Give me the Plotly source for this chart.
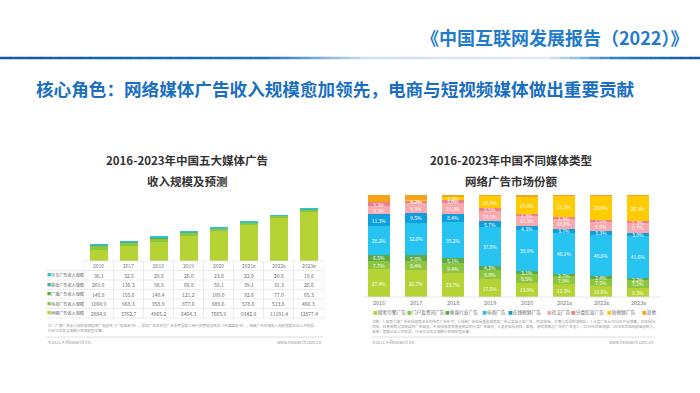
import plotly.graph_objects as go

W, H = 700, 393
FONT = "Noto Sans CJK SC"

# ---------------- data ----------------
years = ['2016', '2017', '2018', '2019', '2020', '2021e', '2022e', '2023e']

# left: 五大媒体广告收入规模（亿元）
left_names = ['杂志广告收入规模', '报纸广告收入规模', '广播广告收入规模', '电视广告收入规模', '网络广告收入规模']
magazine = [36.1, 32.5, 29.6, 26.0, 23.8, 22.0, 20.6, 19.6]
newspaper = [201.6, 136.3, 98.9, 66.8, 50.1, 39.1, 31.3, 26.6]
radio = [145.8, 155.6, 140.4, 121.2, 100.0, 92.6, 77.0, 65.3]
tv = [1004.9, 968.3, 958.9, 877.6, 689.6, 578.6, 513.6, 466.3]
online = [2884.9, 3762.7, 4965.2, 6464.3, 7665.9, 9342.8, 11101.4, 12877.4]
left_colors = ['#2ec4d6', '#3bb89a', '#5daa45', '#8cc63f', '#b5d335']

# right: 不同媒体类型网络广告市场份额（%）
right_names = ['搜索引擎广告', '门户及资讯广告', '垂直行业广告', '电商广告', '在线视频广告',
               '社交广告', '分类信息广告', '短视频广告', '其他']
search = [27.4, 26.7, 23.7, 17.5, 13.9, 12.3, 10.6, 9.3]
portal = [7.7, 8.4, 9.4, 9.0, 8.5, 7.9, 7.5, 7.1]
vertical = [6.5, 5.8, 5.1, 4.2, 3.1, 2.7, 2.4, 2.2]
ecommerce = [28.2, 32.0, 35.2, 37.8, 39.9, 40.1, 40.6, 41.6]
video = [11.3, 9.5, 8.4, 5.7, 4.3, 3.7, 3.3, 3.0]
social = [8.3, 9.3, 10.3, 10.1, 10.3, 10.0, 9.8, 9.7]
classified = [3.3, 3.2, 3.0, 2.5, 1.3, 1.3, 1.5, 1.3]
short_video = [0, 0.3, 3.8, 12.4, 17.4, 21.1, 23.8, 25.3]
other = [7.3, 4.8, 1.1, 0.8, 1.3, 0.9, 0.5, 0.5]
right_colors = ['#b5d335', '#8cc63f', '#5daa45', '#27c3f1', '#0f9fdd',
                '#f6a9ae', '#ef7f88', '#ffcb05', '#f7a21b']


def X(px):
    return px / W


def Y(py):
    return 1 - py / H


fig = go.Figure()

# ---------------- left stacked bars ----------------
left_series = [online, tv, radio, newspaper, magazine]
left_series_names = left_names[::-1]
left_series_colors = left_colors[::-1]
for name, vals, col in zip(left_series_names, left_series, left_series_colors):
    fig.add_trace(go.Bar(x=years, y=vals, name=name, marker=dict(color=col, line=dict(width=0)),
                         xaxis='x', yaxis='y', showlegend=False, hoverinfo='x+y+name'))

# ---------------- right stacked bars ----------------
right_series = [search, portal, vertical, ecommerce, video, social, classified, short_video, other]
for i, (name, vals, col) in enumerate(zip(right_names, right_series, right_colors)):
    if name == '其他':
        txt = ['' for v in vals]
    else:
        txt = [(f'{v:.1f}%' if v > 0 else '') for v in vals]
    fig.add_trace(go.Bar(x=years, y=vals, name=name, marker=dict(color=col, line=dict(width=0)),
                         text=txt, textposition='inside', insidetextanchor='middle',
                         textangle=0, constraintext='none',
                         textfont=dict(color='white', size=5, family=FONT),
                         xaxis='x2', yaxis='y2', showlegend=False, hoverinfo='x+y+name'))

ann = []
shapes = []


def add_text(text, x, y, size, color, xanchor='center', yanchor='middle', xref='paper', yref='paper'):
    ann.append(dict(text=text, x=x, y=y, xref=xref, yref=yref, xanchor=xanchor, yanchor=yanchor,
                    showarrow=False, borderpad=0, font=dict(size=size, color=color, family=FONT)))


# ---------------- header ----------------
add_text('<b>《中国互联网发展报告（2022）》</b>', X(689), Y(37), 18, '#1f7ccc', xanchor='right')
add_text('<b>核心角色：网络媒体广告收入规模愈加领先，电商与短视频媒体做出重要贡献</b>',
         X(35), Y(88), 17.6, '#1a6fc2', xanchor='left')

# gradient rule under the header
stops = [(0.0, (14, 90, 167)), (0.38, (26, 115, 196)), (0.52, (205, 222, 240)),
         (0.78, (228, 236, 246)), (0.88, (43, 127, 207)), (1.0, (14, 90, 167))]


def grad(t):
    for (t0, c0), (t1, c1) in zip(stops[:-1], stops[1:]):
        if t0 <= t <= t1:
            f = (t - t0) / (t1 - t0)
            return 'rgb(%d,%d,%d)' % tuple(int(a + (b - a) * f) for a, b in zip(c0, c1))
    return 'rgb(14,90,167)'


N = 70
for k in range(N):
    x0, x1 = W * k / N, W * (k + 1) / N + 0.6
    shapes.append(dict(type='line', xref='paper', yref='paper', x0=X(x0), x1=X(x1), y0=Y(58), y1=Y(58),
                       line=dict(color=grad((k + 0.5) / N), width=2.5)))

# ---------------- panel titles ----------------
for cx, l1, l2 in [(187, '2016-2023年中国五大媒体广告', '收入规模及预测'),
                   (511, '2016-2023年中国不同媒体类型', '网络广告市场份额')]:
    add_text('<b>' + l1 + '</b>', X(cx), Y(160), 11.5, '#333333')
    add_text('<b>' + l2 + '</b>', X(cx), Y(181), 11.5, '#333333')

# ---------------- left data table ----------------
tbl_top = 261
row_h = 9.5
tbl_left, tbl_right = 46, 323.5
n_rows = 1 + len(left_names)
for r in range(n_rows + 1):
    yy = tbl_top + r * row_h
    shapes.append(dict(type='line', xref='paper', yref='paper', x0=X(tbl_left if r > 0 else 83.5), x1=X(tbl_right),
                       y0=Y(yy), y1=Y(yy), line=dict(color='#e3e3e3', width=0.7)))
for c in range(len(years) + 1):
    shapes.append(dict(type='line', xref='x', yref='paper', x0=c - 0.5, x1=c - 0.5,
                       y0=Y(tbl_top), y1=Y(tbl_top + n_rows * row_h), line=dict(color='#e3e3e3', width=0.7)))

for i, yr in enumerate(years):
    add_text(yr, i, Y(tbl_top + row_h / 2), 5, '#777777', xref='x')
table_rows = [magazine, newspaper, radio, tv, online]
for r, (name, vals, col) in enumerate(zip(left_names, table_rows, left_colors)):
    yc = tbl_top + (r + 1.5) * row_h
    add_text(f'<span style="color:{col}">■</span>{name}', X(46), Y(yc), 4.1, '#666666', xanchor='left')
    for i, v in enumerate(vals):
        add_text(f'{v:.1f}', i, Y(yc), 5, '#666666', xref='x')

# left notes
left_notes = ['注：广播广告收入规模来源国家广电总局《广电蓝皮书》，报纸广告及杂志广告参考国家工商行政管理总局及《传媒蓝皮书》，网络广告市场收入规模根据企业公开财报、',
              '行业访谈及艾瑞统计预测模型估算。']
for k, t in enumerate(left_notes):
    add_text(t, X(47), Y(325 + k * 5.5), 3.6, '#9a9a9a', xanchor='left')

# ---------------- right chart labels ----------------
for i, yr in enumerate(years):
    add_text(yr, i, Y(303), 5.5, '#777777', xref='x2')
shapes.append(dict(type='line', xref='paper', yref='paper', x0=X(364), x1=X(660), y0=Y(297), y1=Y(297),
                   line=dict(color='#e0e0e0', width=0.8)))

legend_x = [372, 406, 444, 481, 507, 546, 570, 606, 641]
for lx, name, col in zip(legend_x, right_names, right_colors):
    add_text(f'<span style="color:{col}">■</span>{name}', X(lx), Y(312), 4.7, '#666666', xanchor='left')

right_notes = ['注释：1.搜索引擎广告包括搜索企业的所有广告形式；2.电商广告包括垂直搜索类广告以及展示类广告，例如淘宝、去哪儿及导购类网站；3.分类广告从2014年开始核算，仅包括58',
               '同城、赶集网等分类网站的广告营收，不包括搜房等垂直网站的分类广告营收；4.其他包括游戏、邮箱、游戏等周边广告的广告收入，2019年后短视频、2016年后短视频营收统计，',
               '来源：根据企业公开财报、行业访谈及艾瑞统计预测模型估算。']
for k, t in enumerate(right_notes):
    add_text(t, X(371), Y(321 + k * 5.3), 3.6, '#9a9a9a', xanchor='left')

# ---------------- footers ----------------
for xl, xr in [(47, 323), (371, 655)]:
    shapes.append(dict(type='line', xref='paper', yref='paper', x0=X(xl), x1=X(xr), y0=Y(337), y1=Y(337),
                       line=dict(color='#d5d5d5', width=0.8)))
    add_text('©2021.9 iResearch Inc.', X(xl), Y(342), 4.2, '#999999', xanchor='left')
    add_text('www.iresearch.com.cn', X(xr), Y(342), 4.2, '#999999', xanchor='right')

fig.update_layout(
    width=W, height=H, margin=dict(l=0, r=0, t=0, b=0),
    paper_bgcolor='white', plot_bgcolor='white',
    barmode='stack', bargap=0.4,
    font=dict(family=FONT),
    xaxis=dict(domain=[X(83.5), X(323.5)], type='category', visible=False, range=[-0.5, 7.5]),
    yaxis=dict(domain=[Y(261), Y(185)], range=[0, 19600], visible=False),
    xaxis2=dict(domain=[X(360.5), X(656.5)], type='category', visible=False, range=[-0.5, 7.5], anchor='y2'),
    yaxis2=dict(domain=[Y(297), Y(195)], range=[0, 100], visible=False, anchor='x2'),
    annotations=ann, shapes=shapes, showlegend=False,
)

fig.write_html('out.html', config={'displayModeBar': False},
               post_script="document.body.style.margin='0';document.body.style.overflow='hidden';")
